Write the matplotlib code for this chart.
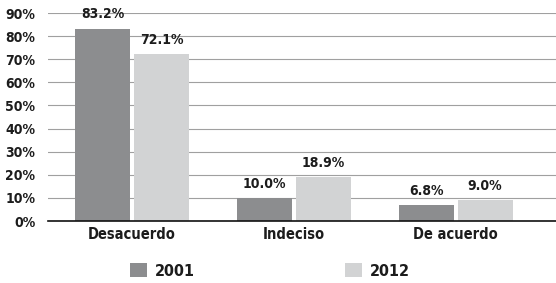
import matplotlib
matplotlib.use("Agg")
import matplotlib.pyplot as plt
import numpy as np

categories = ["Desacuerdo", "Indeciso", "De acuerdo"]
years = ["2001", "2012"]
values_2001 = [83.2, 10.0, 6.8]
values_2012 = [72.1, 18.9, 9.0]
yticks = [0, 10, 20, 30, 40, 50, 60, 70, 80, 90]

plt.rcParams['font.family'] = ['DejaVu Sans']
plt.rcParams['font.stretch'] = 'condensed'

col_dark = "#8c8d8f"
col_light = "#d2d3d4"
txt = "#1c1c1c"

fig = plt.figure(figsize=(5.56, 2.83), dpi=100)
ax = fig.add_axes([0.086, 0.219, 0.914, 0.735])

x = np.arange(len(categories))
w = 0.34
off = 0.182
b1 = ax.bar(x - off, values_2001, w, color=col_dark, zorder=3, label=years[0])
b2 = ax.bar(x + off, values_2012, w, color=col_light, zorder=3, label=years[1])

for bars, vals in ((b1, values_2001), (b2, values_2012)):
    for r, v in zip(bars, vals):
        ax.text(r.get_x() + r.get_width() / 2, v + 3.2, f"{v:.1f}%",
                ha="center", va="bottom", fontsize=10, fontweight="semibold",
                color=txt, zorder=4)

ax.set_xlim(-0.52, 2.62)
ax.set_ylim(0, 90)
ax.set_yticks(yticks)
ax.set_yticklabels([f"{t}%" for t in yticks], fontsize=10, fontweight="semibold", color=txt)
ax.set_xticks(x)
ax.set_xticklabels(categories, fontsize=10.5, fontweight="semibold", color=txt)
ax.tick_params(axis="both", length=0)
ax.tick_params(axis="y", pad=9)
ax.tick_params(axis="x", pad=4)
ax.grid(axis="y", color="#a0a0a0", linewidth=0.8, zorder=0)
ax.set_axisbelow(True)
for s in ("top", "right", "left"):
    ax.spines[s].set_visible(False)
ax.spines["bottom"].set_color("#111111")
ax.spines["bottom"].set_linewidth(1.2)
ax.spines["bottom"].set_zorder(5)

leg = fig.legend(handles=[b1, b2], labels=years, loc="lower center",
                 bbox_to_anchor=(0.485, -0.035), ncol=2, frameon=False,
                 handlelength=1.1, handleheight=1.0, columnspacing=9.4,
                 handletextpad=0.45, prop={"size": 11.5, "weight": "semibold"})
for t in leg.get_texts():
    t.set_color(txt)

fig.savefig("out.png", dpi=100)
